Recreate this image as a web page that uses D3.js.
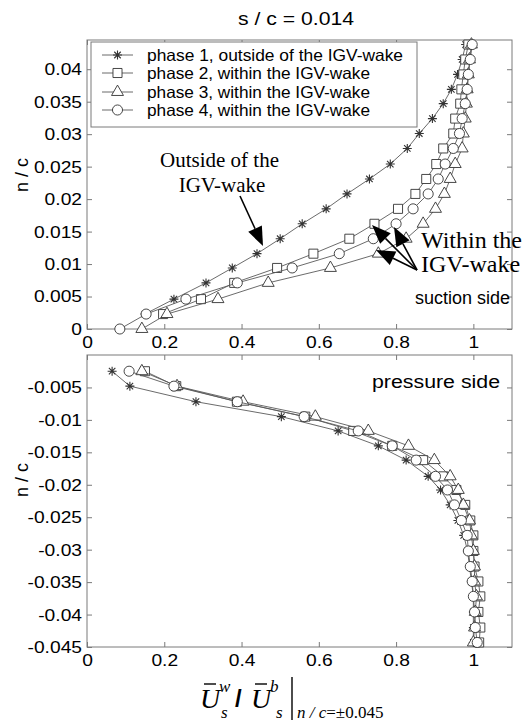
<!DOCTYPE html>
<html>
<head>
<meta charset="utf-8">
<script src="https://cdn.jsdelivr.net/npm/d3@7"></script>
<style>
body { margin: 0; background: #fff; }
</style>
</head>
<body>
<svg id="chart" width="525" height="721" font-family="Arial, 'Liberation Sans', sans-serif"></svg>
<script>
// Ticks
var xTicks = [0, 0.2, 0.4, 0.6, 0.8, 1];
var xTickLabels = ["0", "0.2", "0.4", "0.6", "0.8", "1"];
var yTicksTop = [0, 0.005, 0.01, 0.015, 0.02, 0.025, 0.03, 0.035, 0.04];
var yTickLabelsTop = ["0", "0.005", "0.01", "0.015", "0.02", "0.025", "0.03", "0.035", "0.04"];
var yTicksBot = [-0.045, -0.04, -0.035, -0.03, -0.025, -0.02, -0.015, -0.01, -0.005];
var yTickLabelsBot = ["-0.045", "-0.04", "-0.035", "-0.03", "-0.025", "-0.02", "-0.015", "-0.01", "-0.005"];

var legendLabels = ["phase 1, outside of the IGV-wake", "phase 2, within the IGV-wake",
                    "phase 3, within the IGV-wake", "phase 4, within the IGV-wake"];
var markerTypes = ["star", "square", "triangle", "circle"];

// Suction side (upper plot): n/c positions and velocity ratio per phase
var nTop = [0, 0.0023, 0.0046, 0.0071, 0.0094, 0.0116, 0.0139, 0.0162, 0.0185, 0.0208,
            0.0231, 0.0254, 0.0278, 0.0301, 0.0324, 0.0347, 0.0369, 0.0392, 0.0415, 0.0438];
var p1Top = [null, 0.150, 0.225, 0.308, 0.376, 0.440, 0.500, 0.557, 0.619, 0.673,
             0.731, 0.785, 0.829, 0.860, 0.894, 0.922, 0.943, 0.959, 0.971, 0.980];
var p2Top = [null, 0.197, 0.295, 0.381, 0.492, 0.586, 0.679, 0.744, 0.805, 0.850,
             0.878, 0.904, 0.922, 0.948, 0.953, 0.966, 0.969, 0.974, 0.979, 0.987];
var p3Top = [0.142, 0.207, 0.339, 0.469, 0.630, 0.754, 0.826, 0.870, 0.902, 0.925,
             0.940, 0.953, 0.971, 0.974, 0.979, 0.982, 0.984, 0.987, 0.990, 0.995];
var p4Top = [0.085, 0.153, 0.256, 0.389, 0.531, 0.653, 0.741, 0.800, 0.844, 0.883,
             0.909, 0.927, 0.948, 0.964, 0.971, 0.979, 0.984, 0.987, 0.992, 0.997];

// Pressure side (lower plot)
var nBot = [-0.0025, -0.0048, -0.0072, -0.0095, -0.0117, -0.0140, -0.0162, -0.0187, -0.0208, -0.0231,
            -0.0255, -0.0278, -0.0302, -0.0326, -0.0349, -0.0372, -0.0396, -0.0420, -0.0443];
var p1Bot = [0.065, 0.111, 0.282, 0.503, 0.650, 0.754, 0.826, 0.883, 0.915, 0.940,
             0.960, 0.975, 0.985, 0.990, 0.995, 1.000, 1.000, 1.000, 1.000];
var p2Bot = [0.150, 0.231, 0.388, 0.565, 0.689, 0.790, 0.870, 0.922, 0.956, 0.979,
             0.992, 1.000, 1.000, 1.003, 1.013, 1.018, 1.013, 1.018, 1.015];
var p3Bot = [0.142, 0.233, 0.404, 0.591, 0.728, 0.832, 0.899, 0.940, 0.961, 0.974,
             0.990, 0.995, 1.000, 1.003, 1.003, 1.008, 1.005, 1.003, 1.000];
var p4Bot = [0.109, 0.225, 0.389, 0.562, 0.702, 0.790, 0.852, 0.902, 0.933, 0.951,
             0.969, 0.984, 0.987, 0.992, 0.997, 1.000, 1.003, 1.005, 1.010];

var axisGray = "#7a7a7a";
var lineGray = "#5a5a5a";
var markGray = "#333";
var serif = "'Liberation Serif', 'Times New Roman', serif";

var svg = d3.select("#chart");

var x = d3.scaleLinear().domain([0, 1.1]).range([87, 512]);
var yTop = d3.scaleLinear().domain([0, 0.0445]).range([329, 40]);
var yBot = d3.scaleLinear().domain([-0.045, 0]).range([647, 355]);

drawPanel(yTop, yTicksTop, yTickLabelsTop, nTop, [p1Top, p2Top, p3Top, p4Top]);
drawPanel(yBot, yTicksBot, yTickLabelsBot, nBot, [p1Bot, p2Bot, p3Bot, p4Bot]);
drawLegend();
drawNotes();

// the original figure's text is a bit wider than Arial, stretch it horizontally
function stretch(sel, f) {
   sel.each(function() {
      var w = this.getComputedTextLength();
      d3.select(this).attr("textLength", w * f).attr("lengthAdjust", "spacingAndGlyphs");
   });
}

function markerPath(type) {
   if (type == "star") {
      var r = 4.5, d = r * 0.72;
      return "M" + (-r) + ",0L" + r + ",0M0," + (-r) + "L0," + r +
             "M" + (-d) + "," + (-d) + "L" + d + "," + d + "M" + (-d) + "," + d + "L" + d + "," + (-d);
   }
   if (type == "square") return d3.symbol().type(d3.symbolSquare).size(82)();
   if (type == "triangle") return d3.symbol().type(d3.symbolTriangle).size(62)();
   return d3.symbol().type(d3.symbolCircle).size(80)();
}

function drawMarker(g, type, cx, cy) {
   g.append("path")
      .attr("transform", "translate(" + cx + "," + cy + ")")
      .attr("d", markerPath(type))
      .attr("fill", type == "star" ? "none" : "#fff")
      .attr("stroke", markGray)
      .attr("stroke-width", type == "star" ? 1.1 : 0.9);
}

function drawPanel(y, yTicks, yLabels, nVals, seriesVals) {
   var top = y.range()[1], bottom = y.range()[0];
   var g = svg.append("g");

   g.append("g")
      .attr("transform", "translate(0," + bottom + ")")
      .call(d3.axisBottom(x).tickValues(xTicks).tickSize(-5).tickPadding(7)
         .tickFormat(function(d, i) { return xTickLabels[i]; }));
   g.append("g")
      .attr("transform", "translate(0," + top + ")")
      .call(d3.axisTop(x).tickValues(xTicks).tickSize(-5).tickFormat(""));
   g.append("g")
      .attr("transform", "translate(87,0)")
      .call(d3.axisLeft(y).tickValues(yTicks).tickSize(-5).tickPadding(5)
         .tickFormat(function(d, i) { return yLabels[i]; }));
   g.append("g")
      .attr("transform", "translate(512,0)")
      .call(d3.axisRight(y).tickValues(yTicks).tickSize(-5).tickFormat(""));

   g.selectAll(".domain").remove();
   g.selectAll(".tick line").attr("stroke", axisGray);
   var labels = g.selectAll(".tick text")
      .attr("fill", "#000")
      .attr("font-size", 17)
      .attr("font-family", "Arial, 'Liberation Sans', sans-serif");
   stretch(labels, 1.13);

   g.append("rect")
      .attr("x", 87).attr("y", top)
      .attr("width", 425).attr("height", bottom - top)
      .attr("fill", "none")
      .attr("stroke", axisGray);

   var line = d3.line()
      .defined(function(d) { return d.v != null; })
      .x(function(d) { return x(d.v); })
      .y(function(d) { return y(d.n); });

   seriesVals.forEach(function(vals, k) {
      var pts = vals.map(function(v, i) { return {v: v, n: nVals[i]}; });
      var sg = g.append("g");
      sg.append("path")
         .attr("d", line(pts))
         .attr("fill", "none")
         .attr("stroke", lineGray)
         .attr("stroke-width", 0.9);
      pts.filter(function(d) { return d.v != null; }).forEach(function(d) {
         drawMarker(sg, markerTypes[k], x(d.v), y(d.n));
      });
   });
}

function drawLegend() {
   var lg = svg.append("g");
   lg.append("rect")
      .attr("x", 91).attr("y", 42)
      .attr("width", 326).attr("height", 85)
      .attr("fill", "#fff")
      .attr("stroke", axisGray);
   var rows = [55, 73, 92, 110];
   var widths = [256, 223, 223, 223];
   legendLabels.forEach(function(label, k) {
      lg.append("line")
         .attr("x1", 102).attr("x2", 133)
         .attr("y1", rows[k]).attr("y2", rows[k])
         .attr("stroke", lineGray).attr("stroke-width", 0.9);
      drawMarker(lg, markerTypes[k], 117.5, rows[k]);
      lg.append("text")
         .attr("x", 147).attr("y", rows[k] + 6)
         .attr("font-size", 16.5)
         .attr("textLength", widths[k]).attr("lengthAdjust", "spacingAndGlyphs")
         .text(label);
   });
}

function arrow(g, x1, y1, x2, y2) {
   var a = Math.atan2(y2 - y1, x2 - x1), len = 19, w = 7.5;
   var bx = x2 - len * Math.cos(a), by = y2 - len * Math.sin(a);
   g.append("line")
      .attr("x1", x1).attr("y1", y1).attr("x2", bx).attr("y2", by)
      .attr("stroke", "#000").attr("stroke-width", 1.6);
   var px = -Math.sin(a) * w, py = Math.cos(a) * w;
   g.append("path")
      .attr("d", "M" + x2 + "," + y2 + "L" + (bx + px) + "," + (by + py) + "L" + (bx - px) + "," + (by - py) + "Z")
      .attr("fill", "#000");
}

function drawNotes() {
   var g = svg.append("g");

   g.append("text").attr("x", 238).attr("y", 25)
      .attr("font-size", 18).attr("textLength", 116).attr("lengthAdjust", "spacingAndGlyphs")
      .text("s / c = 0.014");

   g.append("text").attr("x", 160).attr("y", 167).attr("font-family", serif)
      .attr("font-size", 21).text("Outside of the");
   g.append("text").attr("x", 222).attr("y", 192).attr("font-family", serif)
      .attr("text-anchor", "middle").attr("font-size", 21).text("IGV-wake");
   arrow(g, 240, 196, 263, 246);

   g.append("text").attr("x", 421).attr("y", 248).attr("font-family", serif)
      .attr("font-size", 24).text("Within the");
   g.append("text").attr("x", 421).attr("y", 272).attr("font-family", serif)
      .attr("font-size", 24).text("IGV-wake");
   arrow(g, 417, 270, 372, 225);
   arrow(g, 417, 270, 394, 227);
   arrow(g, 417, 270, 376, 250);

   g.append("text").attr("x", 415).attr("y", 304)
      .attr("font-size", 18).text("suction side");
   g.append("text").attr("x", 372).attr("y", 388)
      .attr("font-size", 18).attr("textLength", 128).attr("lengthAdjust", "spacingAndGlyphs")
      .text("pressure side");

   // y labels
   [175, 480].forEach(function(cy) {
      g.append("text")
         .attr("transform", "translate(28," + cy + ") rotate(-90)")
         .attr("text-anchor", "middle")
         .attr("font-size", 18).text("n / c");
   });

   // x label: U_s^w / U_s^b |_{n/c=±0.045}
   function it(xp, yp, size, s) {
      return g.append("text").attr("x", xp).attr("y", yp)
         .attr("font-family", serif).attr("font-style", "italic")
         .attr("font-size", size).text(s);
   }
   function bar(x1, x2, y1, y2) {
      g.append("line").attr("x1", x1).attr("x2", x2).attr("y1", y1).attr("y2", y2)
         .attr("stroke", "#000").attr("stroke-width", 1.4);
   }
   it(200, 708, 28, "U");
   bar(204, 216, 684, 684);
   it(219, 692, 17, "w");
   it(221, 718, 17, "s");
   g.append("text").attr("x", 235).attr("y", 707).attr("font-size", 24)
      .attr("font-weight", "bold").text("/");
   it(251, 708, 28, "U");
   bar(255, 267, 684, 684);
   it(270, 692, 17, "b");
   it(276, 718, 17, "s");
   bar(292, 292, 677, 720);
   var sub = g.append("text").attr("x", 297).attr("y", 718)
      .attr("font-family", serif).attr("font-size", 17);
   sub.append("tspan").attr("font-style", "italic").text("n");
   sub.append("tspan").attr("font-style", "italic").text(" / ");
   sub.append("tspan").attr("font-style", "italic").text("c");
   sub.append("tspan").text("=\u00b10.045");
}
</script>
</body>
</html>
